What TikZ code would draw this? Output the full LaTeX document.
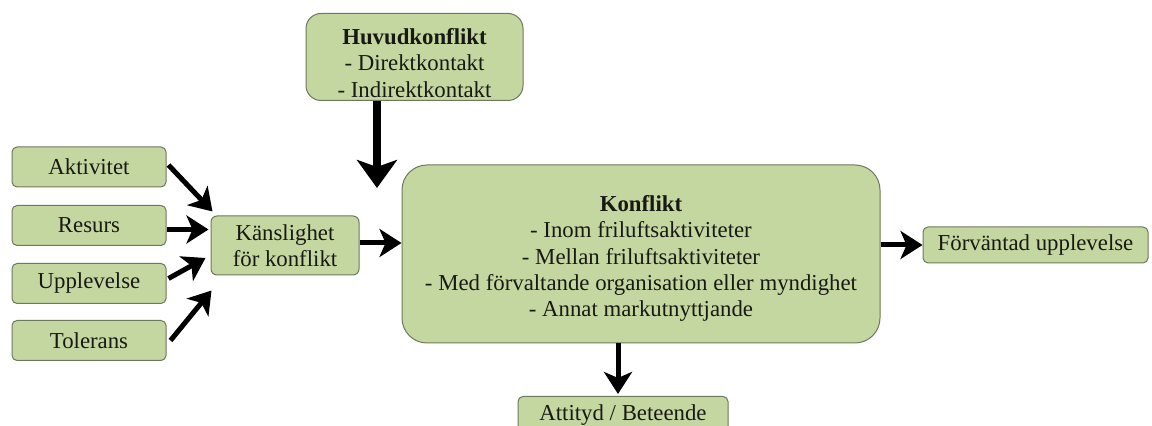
\documentclass[tikz,border=0pt]{standalone}
\usepackage{fontspec}
\setmainfont{Liberation Serif}
\usetikzlibrary{arrows.meta,calc}
\definecolor{boxfill}{RGB}{197,215,160}
\definecolor{boxline}{RGB}{110,120,95}
\definecolor{txt}{RGB}{25,25,20}
\tikzset{
  box/.style={draw=boxline, line width=0.5pt, fill=boxfill, text=txt, align=center,
    font=\fontsize{11.4}{13}\selectfont, inner sep=0pt, rounded corners=2.5pt},
  arr/.style={line width=2.5pt, -{Stealth[length=11pt,width=14pt,inset=3pt]}},
  bigarr/.style={line width=3.6pt, -{Stealth[length=14pt,width=20pt,inset=3.5pt]}}
}
\begin{document}
\begin{tikzpicture}[x=0.5pt,y=-0.5pt]
\clip (0,0) rectangle (1152,426);
\useasboundingbox (0,0) rectangle (1152,426);
\fill[white] (0,0) rectangle (1152,426);
\node[box, rounded corners=7.5pt, minimum width=108.5pt, minimum height=43.5pt,
  font=\fontsize{11.4}{13.3}\selectfont] (huv) at (414.5,57)
  {\rule{0pt}{14pt}\textbf{Huvudkonflikt}\\- Direktkontakt\\- Indirektkontakt};
\node[box, minimum width=77pt, minimum height=20pt] (akt) at (89,167) {Aktivitet};
\node[box, minimum width=77pt, minimum height=20pt] (res) at (89,225.5) {Resurs};
\node[box, minimum width=77pt, minimum height=20pt] (upp) at (89,283.5) {Upplevelse};
\node[box, minimum width=77pt, minimum height=20pt] (tol) at (89,340.5) {Tolerans};
\node[box, rounded corners=3pt, minimum width=74pt, minimum height=29.5pt] (kan) at (285,245.5)
  {Känslighet\\för konflikt};
\node[box, rounded corners=12.5pt, minimum width=239pt, minimum height=89pt,
  font=\fontsize{11.4}{13.1}\selectfont] (kon) at (641,254)
  {\rule{0pt}{12.5pt}\textbf{Konflikt}\\- Inom friluftsaktiviteter\\- Mellan friluftsaktiviteter\\- Med förvaltande organisation eller myndighet\\- Annat markutnyttjande};
\node[box, minimum width=112.5pt, minimum height=18pt] (forv) at (1035.5,245) {Förväntad upplevelse};
\node[box, minimum width=105pt, minimum height=20pt, anchor=north] (att) at (623,396)
  {\raisebox{4pt}{Attityd / Beteende}};
\coordinate (hv) at (377,188);
\coordinate (av) at (618,394);
\draw[bigarr] (huv.south -| hv) -- (hv);
\draw[arr] ($(akt.east)+(2,-2)$) -- ($(kan.north west)+(2,-4)$);
\draw[arr] ($(res.east)+(0,4)$) -- ($(res.east -| kan.west)+(-2,4)$);
\draw[arr] ($(upp.east)+(2,-5)$) -- ($(kan.west)+(-5,12.5)$);
\draw[arr] ($(tol.east)+(4,0)$) -- ($(kan.south west)+(1,15)$);
\draw[arr] ($(kan.east)+(0,-2.5)$) -- ($(kan.east -| kon.west)+(0,-2.5)$);
\draw[arr] (forv.west -| kon.east) -- (forv.west);
\draw[arr] (kon.south -| av) -- (av);
\end{tikzpicture}
\end{document}
